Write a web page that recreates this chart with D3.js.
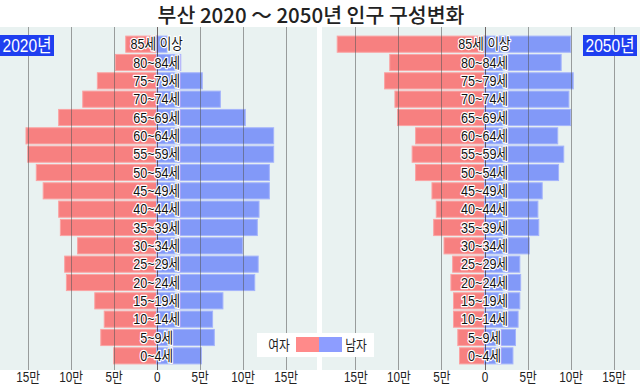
<!DOCTYPE html>
<html>
<head>
<meta charset="utf-8">
<script src="https://cdn.jsdelivr.net/npm/d3@7"></script>
<style>
  body { margin: 0; background: #fff; }
  svg { display: block; }
</style>
</head>
<body>
<div id="chart"></div>
<script>
// age groups, top to bottom
var ageGroups = ["85세 이상", "80~84세", "75~79세", "70~74세", "65~69세", "60~64세",
  "55~59세", "50~54세", "45~49세", "40~44세", "35~39세", "30~34세", "25~29세",
  "20~24세", "15~19세", "10~14세", "5~9세", "0~4세"];

// population in 만 (10,000)
var female2020 = [3.6, 4.8, 6.9, 8.6, 11.4, 15.2, 15.0, 14.0, 13.2, 11.4, 11.2, 9.2, 10.7, 10.5, 7.2, 6.1, 6.5, 5.0];
var male2020   = [1.2, 2.8, 5.3, 7.4, 10.3, 13.6, 13.6, 13.1, 13.1, 11.9, 11.7, 10.0, 11.8, 11.4, 7.7, 6.5, 6.7, 5.2];
var female2050 = [17.1, 11.0, 11.6, 10.4, 10.1, 8.0, 8.4, 8.0, 6.1, 5.6, 5.9, 4.7, 3.7, 3.9, 3.6, 3.6, 3.1, 2.9];
var male2050   = [10.0, 8.9, 10.3, 9.8, 10.0, 8.5, 9.2, 8.6, 6.7, 6.2, 6.3, 5.2, 4.1, 4.2, 4.1, 3.9, 3.6, 3.3];

var tickValues = [-15, -10, -5, 0, 5, 10, 15];
var tickLabels = ["15만", "10만", "5만", "0", "5만", "10만", "15만"];

var title = "부산 2020 ～ 2050년 인구 구성변화";

/// SVG area ///
var svgWidth = 640;
var svgHeight = 385;
var plotTop = 27;
var plotBottom = 370;

var femaleColor = "#f78080";
var maleColor = "#8299f8";

// narrow look of the original lettering
var narrow = 0.84;
var labelFont = "'Liberation Sans', Arial, 'Noto Sans CJK KR', sans-serif";
var krFont = "'Noto Sans CJK KR', sans-serif";

var svg = d3.select("#chart")
  .append("svg")
  .attr("width", svgWidth)
  .attr("height", svgHeight);

// title
svg.append("text")
  .attr("x", 311)
  .attr("y", 23)
  .attr("text-anchor", "middle")
  .attr("font-family", krFont)
  .attr("font-size", 20.5)
  .attr("font-weight", 500)
  .attr("fill", "#222")
  .text(title);

var y = d3.scaleBand()
  .domain(ageGroups)
  .range([35, 365])
  .paddingInner(0.12)
  .paddingOuter(0.06);

var panels = [
  { year: "2020년", female: female2020, male: male2020, left: 0, right: 317, range: [27.7, 285.7], boxX: 0 },
  { year: "2050년", female: female2050, male: male2050, left: 322, right: 640, range: [355.3, 613.7], boxX: 583 }
];

panels.forEach(function (p) {
  var x = d3.scaleLinear().domain([-15, 15]).range(p.range);
  var g = svg.append("g");

  // background
  g.append("rect")
    .attr("x", p.left)
    .attr("y", plotTop)
    .attr("width", p.right - p.left)
    .attr("height", plotBottom - plotTop)
    .attr("fill", "#e9f2f1");

  // female bars (left)
  g.selectAll(".f")
    .data(p.female)
    .enter()
    .append("rect")
    .attr("x", d => x(-d))
    .attr("y", (d, i) => y(ageGroups[i]))
    .attr("width", d => x(0) - x(-d))
    .attr("height", y.bandwidth())
    .attr("fill", femaleColor)
    .attr("stroke", "#fba3a3")
    .attr("stroke-width", 1);

  // male bars (right)
  g.selectAll(".m")
    .data(p.male)
    .enter()
    .append("rect")
    .attr("x", x(0))
    .attr("y", (d, i) => y(ageGroups[i]))
    .attr("width", d => x(d) - x(0))
    .attr("height", y.bandwidth())
    .attr("fill", maleColor)
    .attr("stroke", "#a4b4fb")
    .attr("stroke-width", 1);

  // gridlines
  g.selectAll(".grid")
    .data(tickValues.filter(t => t !== 0))
    .enter()
    .append("line")
    .attr("x1", d => Math.round(x(d)) + 0.5)
    .attr("x2", d => Math.round(x(d)) + 0.5)
    .attr("y1", plotTop)
    .attr("y2", plotBottom)
    .attr("stroke", "#555")
    .attr("stroke-opacity", 0.55);

  // zero line
  g.append("line")
    .attr("x1", Math.round(x(0)) + 0.5)
    .attr("x2", Math.round(x(0)) + 0.5)
    .attr("y1", plotTop)
    .attr("y2", plotBottom)
    .attr("stroke", "#3a2a2a")
    .attr("stroke-opacity", 0.7);

  // age labels with white halo
  g.selectAll(".lab")
    .data(ageGroups)
    .enter()
    .append("text")
    .attr("transform", d => `translate(${x(0)}, ${y(d) + y.bandwidth() / 2 + 5}) scale(${narrow}, 1)`)
    .attr("text-anchor", "middle")
    .attr("font-family", labelFont)
    .attr("font-size", 15)
    .attr("fill", "#111")
    .attr("stroke", "#fff")
    .attr("stroke-width", 2.5)
    .attr("stroke-linejoin", "round")
    .attr("paint-order", "stroke")
    .text(d => d);

  // bottom axis labels
  var axis = d3.axisBottom(x)
    .tickValues(tickValues)
    .tickSize(0)
    .tickFormat((d, i) => tickLabels[i]);
  var ax = g.append("g")
    .attr("transform", `translate(0, ${plotBottom})`)
    .call(axis);
  ax.select(".domain").remove();
  ax.selectAll("text")
    .attr("dy", 0)
    .attr("y", 0)
    .attr("transform", `translate(0, 12) scale(${narrow}, 1)`)
    .attr("font-family", labelFont)
    .attr("font-size", 14)
    .attr("fill", "#222");

  // year box
  g.append("rect")
    .attr("x", p.boxX)
    .attr("y", 35)
    .attr("width", 54)
    .attr("height", 21)
    .attr("fill", "#1f3ff0");
  g.append("text")
    .attr("transform", `translate(${p.boxX + 27}, 52) scale(${narrow}, 1)`)
    .attr("text-anchor", "middle")
    .attr("font-family", labelFont)
    .attr("font-size", 18.5)
    .attr("fill", "#fff")
    .text(p.year);
});

// legend
var legend = svg.append("g");
legend.append("rect")
  .attr("x", 257).attr("y", 333)
  .attr("width", 117).attr("height", 24)
  .attr("fill", "#fff");
legend.append("text")
  .attr("transform", `translate(279, 350) scale(${narrow}, 1)`)
  .attr("text-anchor", "middle")
  .attr("font-family", krFont)
  .attr("font-size", 14)
  .attr("fill", "#222")
  .text("여자");
legend.append("rect")
  .attr("x", 296).attr("y", 337)
  .attr("width", 23).attr("height", 15)
  .attr("fill", "#ff8a8a");
legend.append("rect")
  .attr("x", 319).attr("y", 337)
  .attr("width", 23).attr("height", 15)
  .attr("fill", "#8d9dff");
legend.append("text")
  .attr("transform", `translate(356, 350) scale(${narrow}, 1)`)
  .attr("text-anchor", "middle")
  .attr("font-family", krFont)
  .attr("font-size", 14)
  .attr("fill", "#222")
  .text("남자");
</script>
</body>
</html>
